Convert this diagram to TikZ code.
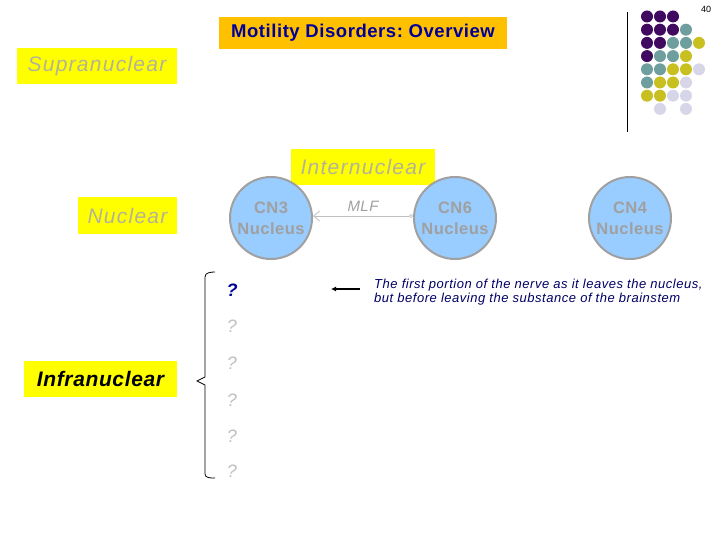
\documentclass[tikz,border=0pt]{standalone}
\usepackage{fontspec}
\setmainfont{Liberation Sans}
\newfontfamily\spacedA[LetterSpace=6]{Liberation Sans}
\newfontfamily\spacedB[LetterSpace=3]{Liberation Sans}
\newfontfamily\spacedC[LetterSpace=4]{Liberation Sans}
\frenchspacing
\usetikzlibrary{arrows.meta}
\definecolor{titlebg}{HTML}{FFC000}
\definecolor{navy}{HTML}{000099}
\definecolor{descblue}{HTML}{000066}
\definecolor{ylw}{HTML}{FFFF00}
\definecolor{olivegray}{HTML}{B3B398}
\definecolor{cblue}{HTML}{99CCFF}
\definecolor{cgray}{HTML}{A0A0A0}
\definecolor{qgray}{HTML}{C0C0C0}
\definecolor{dpurple}{HTML}{3F0A5F}
\definecolor{dteal}{HTML}{6E9E9E}
\definecolor{dyellow}{HTML}{C8C020}
\definecolor{dlav}{HTML}{D6D6E8}
\tikzset{
  levelbox/.style={fill=ylw, inner sep=0pt, font=\spacedA\fontsize{21}{24}\selectfont\itshape},
  nucleus/.style={circle, fill=cblue, draw=cgray, line width=2pt, minimum size=82pt, inner sep=0pt,
    align=center, text=cgray, font=\spacedB\fontsize{16.5}{21}\selectfont\bfseries},
  qmark/.style={text=qgray, font=\fontsize{18}{20}\selectfont\itshape},
  dot/.style={radius=6pt},
}
\begin{document}
\begin{tikzpicture}[x=1pt,y=-1pt]
\useasboundingbox (0,0) rectangle (720,540);
% title
\node[fill=titlebg, minimum width=288pt, minimum height=32pt, inner sep=0pt, text=navy,
  font=\spacedB\fontsize{18.5}{22}\selectfont\bfseries\frenchspacing] (title) at (363,33) {Motility Disorders: Overview};
\node[font=\fontsize{9}{10}\selectfont] (pnum) at (706,9) {40};
% level boxes
\node[levelbox, minimum width=160pt, minimum height=36pt, text=olivegray] (supra) at (97,66.5) {Supranuclear};
\node[levelbox, minimum width=144pt, minimum height=36pt, text=olivegray] (inter) at (363,167) {Internuclear};
\node[levelbox, minimum width=99pt, minimum height=37pt, text=olivegray] (nuc) at (127.5,215.5) {Nuclear};
\node[levelbox, minimum width=153pt, minimum height=36pt, text=black,
  font=\spacedB\fontsize{21}{24}\selectfont\bfseries\itshape] (infra) at (100.5,379) {Infranuclear};
% nuclei
\node[nucleus] (cn3) at (271,218) {CN3\\Nucleus};
\node[nucleus] (cn6) at (455,218) {CN6\\Nucleus};
\node[nucleus] (cn4) at (630,218) {CN4\\Nucleus};
% MLF
\draw[qgray, line width=0.8pt, {Straight Barb[length=6pt,width=10pt]}-{Circle[open,length=4pt]}]
  ([yshift=2pt]cn3.east) -- node[above=1pt, text=cgray, font=\spacedB\fontsize{15}{18}\selectfont\itshape] (mlf) {MLF} ([yshift=2pt]cn6.west);
% question marks
\node[text=navy, font=\fontsize{18}{20}\selectfont\bfseries\itshape] (q1) at (232,290) {?};
\node[qmark] (q2) at (232,326) {?};
\node[qmark] (q3) at (232,363) {?};
\node[qmark] (q4) at (232,400) {?};
\node[qmark] (q5) at (232,436) {?};
\node[qmark] (q6) at (232,471) {?};
% bracket
\draw[black, line width=0.8pt] (215,272) to[out=180,in=90] (205,277) -- (205,377) -- (197,381) -- (205,385) -- (205,474) to[out=-90,in=180] (215,478);
% description
\node[anchor=west, align=left, text=descblue, inner sep=0pt,
  font=\spacedC\fontsize{13}{14}\selectfont\itshape\frenchspacing] (desc) at (374,292)
  {The first portion of the nerve as it leaves the nucleus,\\but before leaving the substance of the brainstem};
\coordinate (atail) at (360,289);
\coordinate (ahead) at (331,289);
\draw[black, line width=1.2pt, -{Latex[length=5pt,width=5pt]}] (atail) -- (ahead);
% decoration
\draw[black, line width=0.8pt] (627,12) -- (627,132);
\foreach \c/\r/\col in {0/0/dpurple,1/0/dpurple,2/0/dpurple,
  0/1/dpurple,1/1/dpurple,2/1/dpurple,3/1/dteal,
  0/2/dpurple,1/2/dpurple,2/2/dteal,3/2/dteal,4/2/dyellow,
  0/3/dpurple,1/3/dteal,2/3/dteal,3/3/dyellow,
  0/4/dteal,1/4/dteal,2/4/dyellow,3/4/dyellow,4/4/dlav,
  0/5/dteal,1/5/dyellow,2/5/dyellow,3/5/dlav,
  0/6/dyellow,1/6/dyellow,2/6/dlav,3/6/dlav,
  1/7/dlav,3/7/dlav}
  \fill[\col] (647+13*\c,16.5+13.2*\r) circle[dot];
\end{tikzpicture}
\end{document}
